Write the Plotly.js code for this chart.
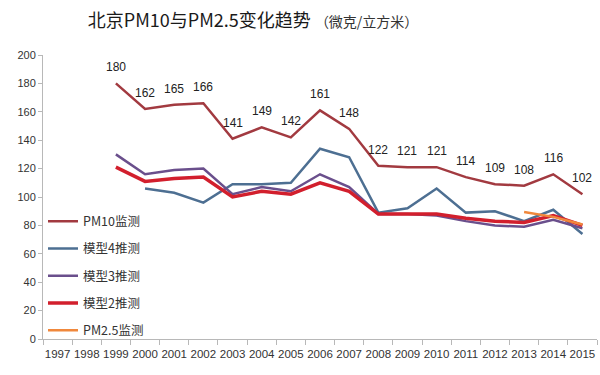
<!DOCTYPE html>
<html><head><meta charset="utf-8">
<script src="https://cdn.plot.ly/plotly-3.0.1.min.js"></script>
<style>html,body{margin:0;padding:0;background:#fff}#chart{width:600px;height:375px}</style>
</head><body><div id="chart"></div>
<script>
const years = ['1997','1998','1999','2000','2001','2002','2003','2004','2005','2006','2007','2008','2009','2010','2011','2012','2013','2014','2015'];
const pm10Years = ['1999','2000','2001','2002','2003','2004','2005','2006','2007','2008','2009','2010','2011','2012','2013','2014','2015'];
const pm10 = [180,162,165,166,141,149,142,161,148,122,121,121,114,109,108,116,102];
const model4Years = ['2000','2001','2002','2003','2004','2005','2006','2007','2008','2009','2010','2011','2012','2013','2014','2015'];
const model4 = [106,103,96,109,109,110,134,128,89,92,106,89,90,83,91,74];
const model3Years = pm10Years;
const model3 = [130,116,119,120,102,107,104,116,107,88,88,87,83,80,79,84,78];
const model2Years = pm10Years;
const model2 = [121,111,113,114,100,104,102,110,104,88,88,88,85,83,82,87,80];
const pm25Years = ['2013','2014','2015'];
const pm25 = [89.5,86,80.6];

const numFont = 'Liberation Sans, Noto Sans, sans-serif';
const cjk = 'Noto Sans CJK SC, sans-serif';

const traces = [
  {x: pm10Years, y: pm10, name: 'PM10监测', mode: 'lines',
   line: {color: '#a23a40', width: 2.5}, legendgroup: 'a'},
  {x: model4Years, y: model4, name: '模型4推测', mode: 'lines',
   line: {color: '#4d6f92', width: 2.5}, legendgroup: 'b'},
  {x: model3Years, y: model3, name: '模型3推测', mode: 'lines',
   line: {color: '#6a4f8c', width: 2.5}, legendgroup: 'c'},
  {x: model2Years, y: model2, name: '模型2推测', mode: 'lines',
   line: {color: '#d21f2d', width: 3.5}, legendgroup: 'd'},
  {x: pm25Years, y: pm25, name: 'PM2.5监测', mode: 'lines',
   line: {color: '#f0883c', width: 2.5}, legendgroup: 'e'}
];

const annotations = pm10Years.map((yr, i) => ({
  x: years.indexOf(yr), y: pm10[i], xref: 'x', yref: 'y', text: String(pm10[i]),
  showarrow: false, yshift: 16, xanchor: 'center', yanchor: 'middle',
  font: {family: numFont, size: 12, color: '#222'}
}));

const layout = {
  width: 600, height: 375,
  margin: {l: 43, r: 3, t: 55, b: 36},
  paper_bgcolor: '#fff', plot_bgcolor: '#fff',
  showlegend: true,
  annotations: annotations,
  title: {
    text: '北京PM10与PM2.5变化趋势 <span style="font-size:14px;color:#333">（微克/立方米）</span>',
    font: {family: cjk, size: 18, color: '#1a1a1a'},
    xref: 'paper', x: 0.081, xanchor: 'left',
    yref: 'container', y: 0.945, yanchor: 'middle'
  },
  xaxis: {
    type: 'category', categoryorder: 'array', categoryarray: years,
    range: [-0.5, 18.5],
    showgrid: false, zeroline: false,
    showline: true, linecolor: '#b8b8b8', linewidth: 1,
    ticks: 'outside', ticklen: 5, tickcolor: '#b8b8b8', tickson: 'boundaries',
    tickangle: 0, ticklabelstandoff: 4,
    tickfont: {family: numFont, size: 11.5, color: '#333'}
  },
  yaxis: {
    range: [0, 200], dtick: 20,
    showgrid: false, zeroline: false,
    showline: true, linecolor: '#b8b8b8', linewidth: 1,
    ticks: 'outside', ticklen: 4, tickcolor: '#b8b8b8',
    tickfont: {family: numFont, size: 11, color: '#333'}
  },
  legend: {
    x: 0.0, y: 0.466, xanchor: 'left', yanchor: 'top',
    bgcolor: 'rgba(0,0,0,0)', borderwidth: 0,
    font: {family: cjk, size: 12.5, color: '#333'},
    tracegroupgap: 8
  }
};

Plotly.newPlot('chart', traces, layout, {displayModeBar: false, staticPlot: true});
</script></body></html>
